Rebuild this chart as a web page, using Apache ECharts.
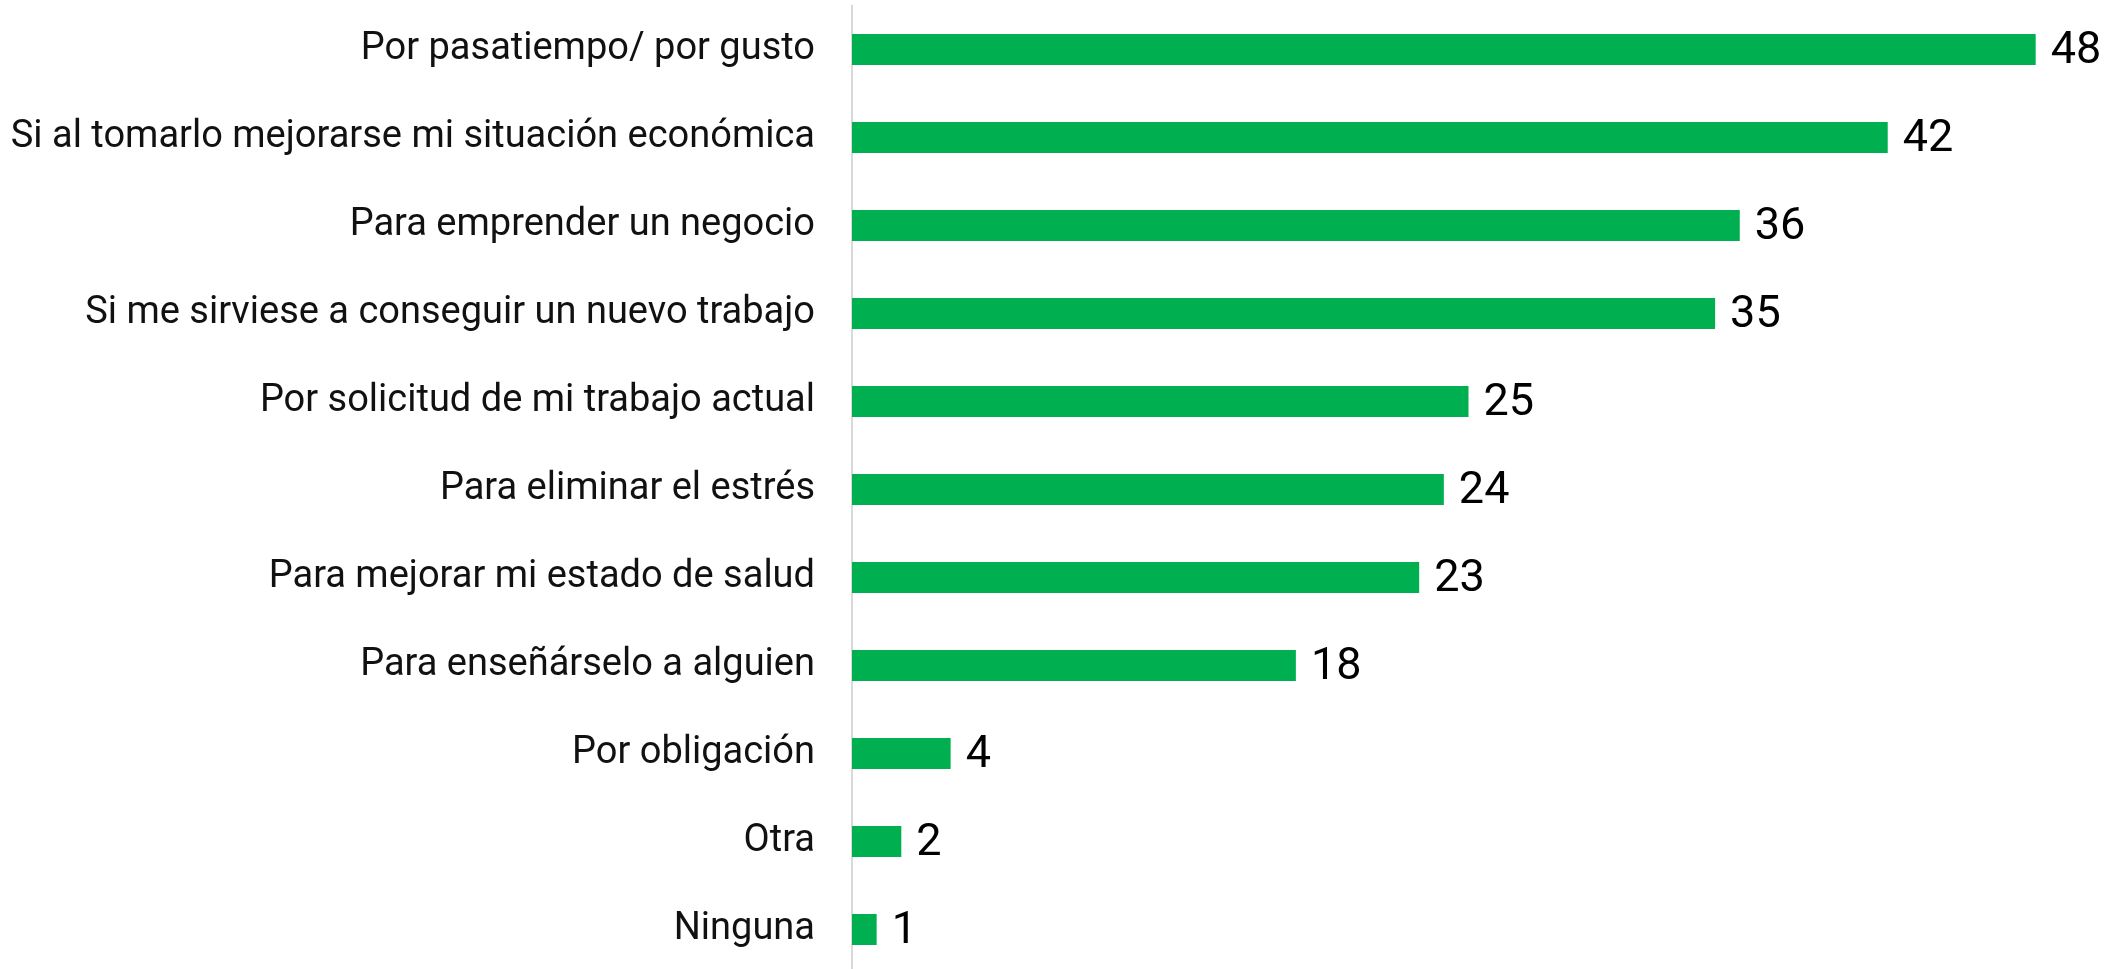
<!DOCTYPE html>
<html>
<head>
<meta charset="utf-8">
<script src="https://cdn.jsdelivr.net/npm/echarts@6/dist/echarts.min.js"></script>
<style>
  html, body { margin: 0; padding: 0; background: #fff; overflow: hidden; }
  /* un poco más alto que la ventana para que la última banda no se recorte */
  #chart { width: 2113px; height: 990px; }
</style>
</head>
<body>
<div id="chart"></div>
<script>
// motivos, de arriba hacia abajo
const categories = [
  'Por pasatiempo/ por gusto',
  'Si al tomarlo mejorarse mi situación económica',
  'Para emprender un negocio',
  'Si me sirviese a conseguir un nuevo trabajo',
  'Por solicitud de mi trabajo actual',
  'Para eliminar el estrés',
  'Para mejorar mi estado de salud',
  'Para enseñárselo a alguien',
  'Por obligación',
  'Otra',
  'Ninguna'
]
const values = [48, 42, 36, 35, 25, 24, 23, 18, 4, 2, 1]

const font = "'Roboto', sans-serif"

const chart = echarts.init(document.getElementById('chart'))

let option = {
  animation: false,
  grid: {
    left: 852,
    top: 5.5,
    height: 968,
    right: 28
  },
  xAxis: {
    type: 'value',
    min: 0,
    max: 50,
    show: false
  },
  yAxis: {
    type: 'category',
    inverse: true,
    data: categories,
    axisLine: { show: true, lineStyle: { color: '#d9d9d9', width: 2 } },
    axisTick: { show: false },
    axisLabel: {
      margin: 37,
      color: '#111',
      fontFamily: font,
      fontSize: 38
    }
  },
  series: [
    {
      type: 'bar',
      data: values,
      barWidth: 31,
      itemStyle: { color: '#00b050' },
      label: {
        show: true,
        position: 'right',
        distance: 15,
        offset: [0, 2],
        color: '#000',
        fontFamily: font,
        fontSize: 45
      }
    }
  ]
}
chart.setOption(option)
</script>
</body>
</html>
